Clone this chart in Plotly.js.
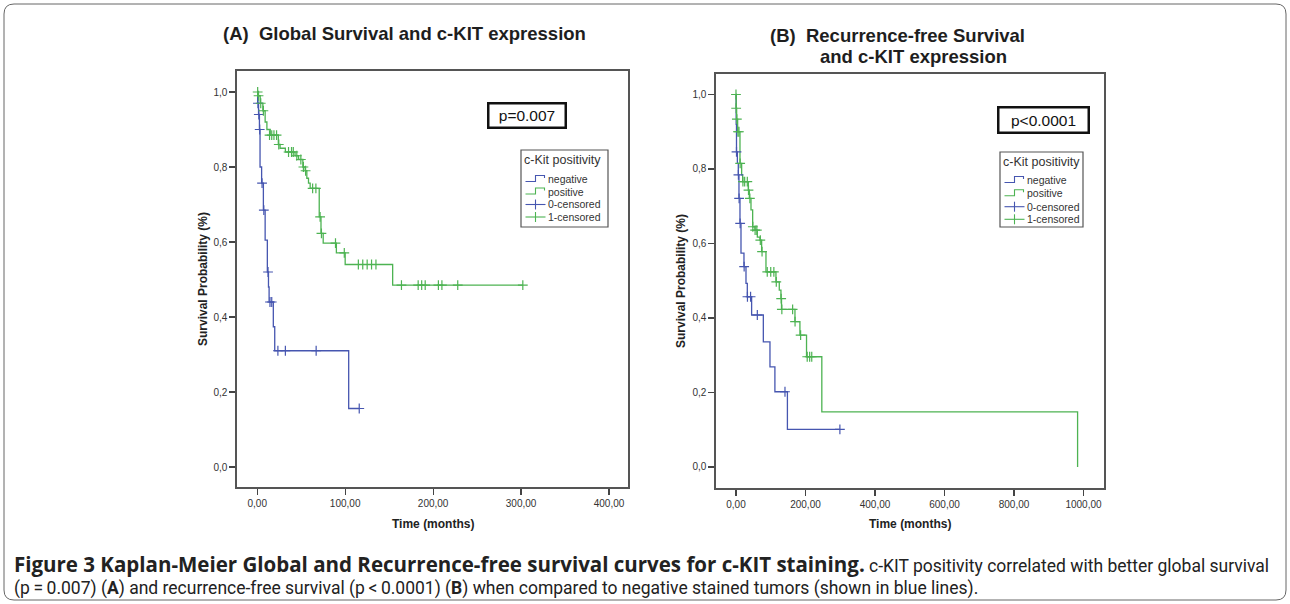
<!DOCTYPE html>
<html>
<head>
<meta charset="utf-8">
<script src="https://cdn.plot.ly/plotly-3.0.1.min.js"></script>
<style>html,body{margin:0;padding:0;background:#fff;}#chart{width:1290px;height:604px;}</style>
</head>
<body>
<div id="chart"></div>
<script>
// ---------- Panel A: Global survival ----------
const negA_t = [0, 0.5, 1.5, 2.5, 3.2, 5, 7, 9, 11.5, 12.8, 13.5, 18.3, 19.9, 104, 116];
const negA_s = [1, 0.97, 0.94, 0.90, 0.80, 0.757, 0.685, 0.605, 0.52, 0.48, 0.44, 0.374, 0.31, 0.156, 0.156];
const negA_ct = [0.8, 1.8, 2.8, 5.5, 7.5, 12.3, 14.5, 16.5, 23.5, 32, 67, 116];
const negA_cs = [0.97, 0.94, 0.90, 0.757, 0.685, 0.52, 0.44, 0.44, 0.31, 0.31, 0.31, 0.156];

const posA_t = [0, 0.5, 3.4, 6.4, 9, 11, 14.8, 24, 26, 32, 43, 47, 51.9, 54.5, 56.4, 58.3, 60.2, 70.5, 72.5, 75, 90, 100, 154, 302];
const posA_s = [1, 0.99, 0.97, 0.95, 0.92, 0.90, 0.885, 0.86, 0.85, 0.84, 0.83, 0.82, 0.80, 0.79, 0.77, 0.757, 0.743, 0.667, 0.623, 0.597, 0.571, 0.54, 0.485, 0.485];
const posA_ct = [0.5, 1.5, 4, 7, 14, 16.5, 19, 22, 24.5, 35.6, 39, 41, 45, 49.6, 52.5, 55, 63, 66.7, 71.5, 73, 89, 99, 115, 120, 125, 130, 135, 164, 183, 187, 191, 206, 210, 228, 302];
const posA_cs = [1.0, 0.99, 0.97, 0.95, 0.885, 0.885, 0.885, 0.885, 0.86, 0.84, 0.84, 0.84, 0.83, 0.82, 0.80, 0.79, 0.743, 0.743, 0.667, 0.623, 0.597, 0.571, 0.54, 0.54, 0.54, 0.54, 0.54, 0.485, 0.485, 0.485, 0.485, 0.485, 0.485, 0.485, 0.485];

// ---------- Panel B: Recurrence-free survival ----------
const negB_t = [0, 0.5, 1.5, 4, 6.7, 8.6, 11.5, 14.4, 23, 28.8, 32.6, 45, 78.7, 97.8, 112, 148, 299];
const negB_s = [1, 0.92, 0.846, 0.815, 0.784, 0.721, 0.654, 0.574, 0.538, 0.493, 0.457, 0.408, 0.336, 0.269, 0.202, 0.101, 0.101];
const negB_ct = [1.5, 7, 9, 12, 23.5, 33, 42, 61.4, 141, 299];
const negB_cs = [0.846, 0.784, 0.721, 0.654, 0.538, 0.457, 0.457, 0.408, 0.202, 0.101];

const posB_t = [0, 0.5, 1.9, 4.8, 11.5, 16.3, 19.2, 35.5, 38.4, 43.2, 48, 54.7, 61.4, 69, 73.8, 86.3, 115, 124.6, 129.4, 131, 169.7, 184, 203, 247, 983];
const posB_s = [1, 0.963, 0.934, 0.90, 0.815, 0.784, 0.766, 0.743, 0.721, 0.69, 0.645, 0.636, 0.617, 0.609, 0.578, 0.524, 0.497, 0.475, 0.452, 0.423, 0.39, 0.354, 0.296, 0.148, 0];
const posB_ct = [0, 0.5, 2.5, 5.5, 8.6, 12, 20, 25, 32.6, 36, 40, 48.5, 55, 60, 70, 75, 90, 100, 109, 116, 130, 132, 163, 170, 186, 205, 212, 218];
const posB_cs = [1, 0.963, 0.934, 0.90, 0.90, 0.815, 0.766, 0.766, 0.766, 0.743, 0.721, 0.645, 0.636, 0.636, 0.609, 0.578, 0.524, 0.524, 0.524, 0.497, 0.452, 0.423, 0.423, 0.39, 0.354, 0.296, 0.296, 0.296];

// ---------- Tick labels ----------
const yTickVals = [0, 0.2, 0.4, 0.6, 0.8, 1.0];
const yTickText = ['0,0', '0,2', '0,4', '0,6', '0,8', '1,0'];
const xTickValsA = [0, 100, 200, 300, 400];
const xTickTextA = ['0,00', '100,00', '200,00', '300,00', '400,00'];
const xTickValsB = [0, 200, 400, 600, 800, 1000];
const xTickTextB = ['0,00', '200,00', '400,00', '600,00', '800,00', '1000,00'];

const legendTitle = 'c-Kit positivity';
const legendItems = ['negative', 'positive', '0-censored', '1-censored'];

const BLUE = '#4656b0';
const GREEN = '#4db352';

const px = x => x / 1290;
const py = y => 1 - y / 604;

function km(x, y, color, xa, ya, name) {
  return {x: x, y: y, xaxis: xa, yaxis: ya, name: name, type: 'scatter', mode: 'lines',
    line: {shape: 'hv', color: color, width: 1.3}, showlegend: false, hoverinfo: 'x+y'};
}
function cens(x, y, color, xa, ya, name) {
  return {x: x, y: y, xaxis: xa, yaxis: ya, name: name, type: 'scatter', mode: 'markers',
    marker: {symbol: 'cross-thin', size: 7, line: {color: color, width: 1.2}, color: color},
    showlegend: false, hoverinfo: 'x+y'};
}

const data = [
  km(negA_t, negA_s, BLUE, 'x', 'y', 'negative'),
  km(posA_t, posA_s, GREEN, 'x', 'y', 'positive'),
  cens(negA_ct, negA_cs, BLUE, 'x', 'y', '0-censored'),
  cens(posA_ct, posA_cs, GREEN, 'x', 'y', '1-censored'),
  km(negB_t, negB_s, BLUE, 'x2', 'y2', 'negative'),
  km(posB_t, posB_s, GREEN, 'x2', 'y2', 'positive'),
  cens(negB_ct, negB_cs, BLUE, 'x2', 'y2', '0-censored'),
  cens(posB_ct, posB_cs, GREEN, 'x2', 'y2', '1-censored')
];

const tickFont = {family: 'Arial, Liberation Sans, sans-serif', size: 10, color: '#333'};
function xax(domain, range, vals, text, anchor) {
  return {domain: domain, range: range, tickvals: vals, ticktext: text, ticks: 'outside', ticklen: 6,
    tickwidth: 1.2, tickcolor: '#444', showline: true, mirror: true, linecolor: '#555', linewidth: 1.6,
    showgrid: false, zeroline: false, tickfont: tickFont, anchor: anchor, fixedrange: true};
}
function yax(domain, range, anchor) {
  return {domain: domain, range: range, tickvals: yTickVals, ticktext: yTickText, ticks: 'outside', ticklen: 6,
    tickwidth: 1.2, tickcolor: '#444', showline: true, mirror: true, linecolor: '#555', linewidth: 1.6,
    showgrid: false, zeroline: false, tickfont: tickFont, anchor: anchor, fixedrange: true};
}

const AF = 'Arial, Liberation Sans, sans-serif';
const annotations = [];
const shapes = [];

function ann(text, x, y, opts) {
  annotations.push(Object.assign({text: text, x: px(x), y: py(y), xref: 'paper', yref: 'paper',
    showarrow: false, xanchor: 'center', yanchor: 'middle', font: {family: AF, size: 12, color: '#222'}}, opts || {}));
}

// Panel titles
const TF = {family: AF, size: 18.5, color: '#1e1e1e'};
ann('<b>(A)\u00a0\u00a0Global Survival and c-KIT expression</b>', 404.5, 34, {font: TF});
ann('<b>(B)\u00a0\u00a0Recurrence-free Survival</b>', 897, 35, {font: TF});
ann('<b>and c-KIT expression</b>', 914, 57, {font: TF});

// Axis titles
ann('<b>Time (months)</b>', 432.5, 524, {font: {family: AF, size: 12, color: '#222'}});
ann('<b>Time (months)</b>', 910, 524, {font: {family: AF, size: 12, color: '#222'}});
ann('<b>Survival Probability (%)</b>', 203, 279, {textangle: -90, font: {family: AF, size: 12, color: '#222'}});
ann('<b>Survival Probability (%)</b>', 681, 281, {textangle: -90, font: {family: AF, size: 12, color: '#222'}});

// p-value boxes
ann('p=0.007', 527, 115.5, {font: {family: AF, size: 15.5, color: '#111'}, bordercolor: '#111', borderwidth: 2.5,
  borderpad: 3, bgcolor: '#fff', width: 69, height: 16});
ann('p&lt;0.0001', 1043.5, 120, {font: {family: AF, size: 15.5, color: '#111'}, bordercolor: '#111', borderwidth: 2.5,
  borderpad: 3, bgcolor: '#fff', width: 82, height: 17});

// Legends (drawn as decoration)
function legend(x0, y0, x1, y1, titleY, itemYs, glyphX, textX) {
  shapes.push({type: 'rect', xref: 'paper', yref: 'paper', x0: px(x0), x1: px(x1), y0: py(y0), y1: py(y1),
    line: {color: '#555', width: 1.2}, fillcolor: 'rgba(0,0,0,0)'});
  ann(legendTitle, x0 + 1, titleY, {xanchor: 'left', font: {family: AF, size: 12.5, color: '#333'}});
  const colors = [BLUE, GREEN, BLUE, GREEN];
  legendItems.forEach((lab, i) => {
    const y = itemYs[i];
    ann(lab, textX, y, {xanchor: 'left', font: {family: AF, size: 10.5, color: '#333'}});
    if (i < 2) {
      const p = `M ${px(glyphX)} ${py(y + 2.5)} L ${px(glyphX + 10)} ${py(y + 2.5)} L ${px(glyphX + 10)} ${py(y - 3.5)} ` +
        `L ${px(glyphX + 19)} ${py(y - 3.5)} L ${px(glyphX + 19)} ${py(y - 1)}`;
      shapes.push({type: 'path', xref: 'paper', yref: 'paper', path: p, line: {color: colors[i], width: 1.1}});
    } else {
      shapes.push({type: 'line', xref: 'paper', yref: 'paper', x0: px(glyphX), x1: px(glyphX + 20), y0: py(y), y1: py(y),
        line: {color: colors[i], width: 1.1}});
      shapes.push({type: 'line', xref: 'paper', yref: 'paper', x0: px(glyphX + 10), x1: px(glyphX + 10), y0: py(y - 5), y1: py(y + 5),
        line: {color: colors[i], width: 1.1}});
    }
  });
}
legend(521, 150, 608, 227, 160, [179, 191.5, 204.5, 217], 525.5, 545.5);
legend(1000, 152, 1083, 227, 162, [180, 193.3, 206.7, 219.3], 1004.5, 1025);

// Caption
const CF = 'Roboto, Open Sans, sans-serif';
ann('<span style="font-family:Open Sans, Noto Sans, sans-serif;font-size:20.5px"><b>Figure 3 Kaplan-Meier Global and Recurrence-free survival curves for c-KIT staining.</b></span> c-KIT positivity correlated with better global survival',
  12, 564, {xanchor: 'left', font: {family: CF, size: 17.5, color: '#222'}});
ann('(p\u2009=\u20090.007) (<b>A</b>) and recurrence-free survival (p\u2009&lt;\u20090.0001) (<b>B</b>) when compared to negative stained tumors (shown in blue lines).',
  12, 588, {xanchor: 'left', font: {family: CF, size: 17.5, color: '#222'}});

// Outer rounded frame
const r = 10, L = 4, T = 4, R = 1286, B = 600;
shapes.push({type: 'path', xref: 'paper', yref: 'paper', line: {color: '#666', width: 1},
  path: `M ${px(L + r)} ${py(T)} L ${px(R - r)} ${py(T)} Q ${px(R)} ${py(T)} ${px(R)} ${py(T + r)} L ${px(R)} ${py(B - r)} ` +
    `Q ${px(R)} ${py(B)} ${px(R - r)} ${py(B)} L ${px(L + r)} ${py(B)} Q ${px(L)} ${py(B)} ${px(L)} ${py(B - r)} ` +
    `L ${px(L)} ${py(T + r)} Q ${px(L)} ${py(T)} ${px(L + r)} ${py(T)} Z`});

const layout = {
  width: 1290, height: 604,
  margin: {l: 0, r: 0, t: 0, b: 0},
  paper_bgcolor: '#fff', plot_bgcolor: '#fff',
  showlegend: false,
  xaxis: xax([237 / 1290, 628 / 1290], [-23, 421.6], xTickValsA, xTickTextA, 'y'),
  yaxis: yax([1 - 487 / 604, 1 - 71 / 604], [-0.0533, 1.056], 'x'),
  xaxis2: xax([716 / 1290, 1104 / 1290], [-57.5, 1059], xTickValsB, xTickTextB, 'y2'),
  yaxis2: yax([1 - 488 / 604, 1 - 74 / 604], [-0.0564, 1.055], 'x2'),
  annotations: annotations,
  shapes: shapes
};

Plotly.newPlot('chart', data, layout, {displayModeBar: false, staticPlot: true});
</script>
</body>
</html>
